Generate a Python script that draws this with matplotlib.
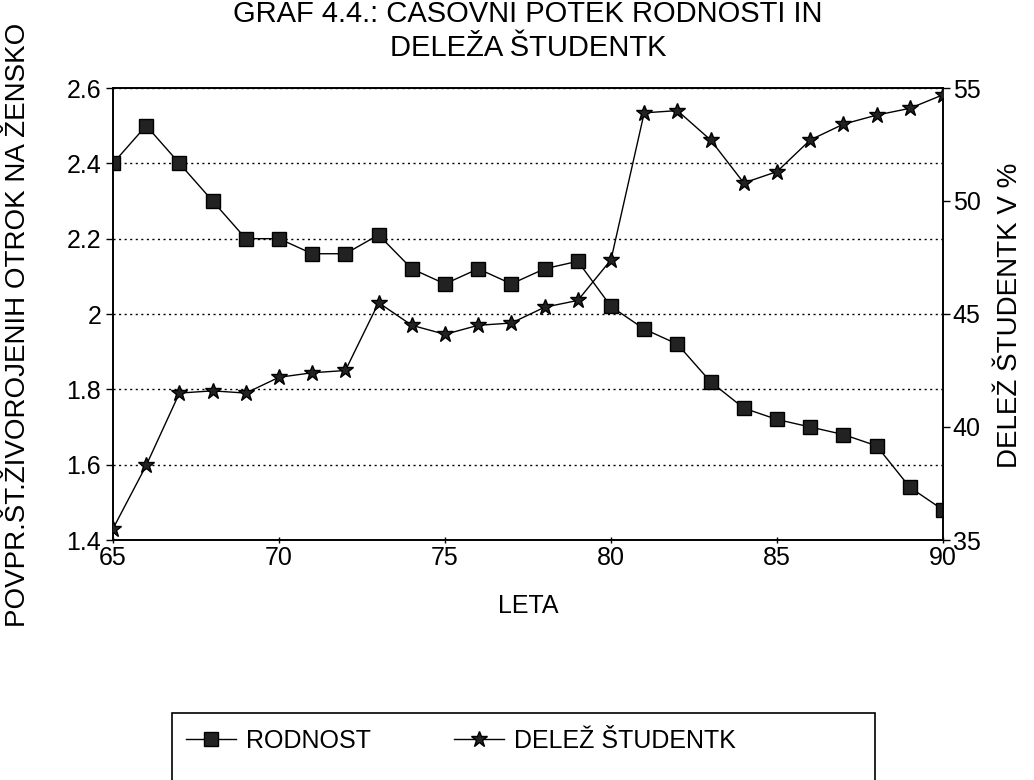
import matplotlib
matplotlib.use("Agg")
import matplotlib.pyplot as plt
from matplotlib.patches import Rectangle

# years (19xx) and the two series
leta = list(range(65, 91))
rodnost = [2.40, 2.50, 2.40, 2.30, 2.20, 2.20, 2.16, 2.16, 2.21, 2.12, 2.08, 2.12, 2.08,
           2.12, 2.14, 2.02, 1.96, 1.92, 1.82, 1.75, 1.72, 1.70, 1.68, 1.65, 1.54, 1.48]
delez = [35.5, 38.3, 41.5, 41.6, 41.5, 42.2, 42.4, 42.5, 45.5, 44.5, 44.1, 44.5, 44.6,
         45.3, 45.6, 47.4, 53.9, 54.0, 52.7, 50.8, 51.3, 52.7, 53.4, 53.8, 54.1, 54.7]

left_ticks = [1.4, 1.6, 1.8, 2.0, 2.2, 2.4, 2.6]
left_labels = ["1.4", "1.6", "1.8", "2", "2.2", "2.4", "2.6"]
right_ticks = [35, 40, 45, 50, 55]
x_ticks = [65, 70, 75, 80, 85, 90]

plt.rcParams['font.family'] = ['Liberation Sans', 'DejaVu Sans']

fig = plt.figure(figsize=(10.34, 7.8), dpi=100)
ax = fig.add_axes([113 / 1034, 1 - 540 / 780, 830 / 1034, 452 / 780])
ax2 = ax.twinx()

l1, = ax.plot(leta, rodnost, color='black', lw=1, marker='s', markersize=10,
              markerfacecolor='#222222', markeredgecolor='black', zorder=3)
l2, = ax2.plot(leta, delez, color='black', lw=1, marker='*', markersize=12,
               markerfacecolor='#222222', markeredgecolor='black', zorder=3)

ax.set_xlim(65, 90)
ax.set_ylim(1.4, 2.6)
ax2.set_ylim(35, 55)
ax.set_xticks(x_ticks)
ax.set_yticks(left_ticks)
ax.set_yticklabels(left_labels)
ax2.set_yticks(right_ticks)

ax.yaxis.grid(True, linestyle=(0, (1.5, 2.5)), color='black', lw=1)
ax.tick_params(axis='both', labelsize=18, length=5, width=1, color='black')
ax.tick_params(axis='x', direction='inout', pad=2)
ax2.tick_params(axis='y', labelsize=18, length=5, width=1, pad=2)
for a in (ax, ax2):
    for s in a.spines.values():
        s.set_linewidth(1.2)

fig.text(528 / 1034, 1 - 606 / 780, "LETA", ha='center', va='center', fontsize=18)
fig.text(18 / 1034, 1 - 325 / 780, "POVPR.ŠT.ŽIVOROJENIH OTROK NA ŽENSKO",
         rotation=90, ha='center', va='center', fontsize=20)
fig.text(1010 / 1034, 1 - 315 / 780, "DELEŽ ŠTUDENTK V %",
         rotation=90, ha='center', va='center', fontsize=20)

fig.text(528 / 1034, 1 - 31 / 780, "GRAF 4.4.: ČASOVNI POTEK RODNOSTI IN\nDELEŽA ŠTUDENTK",
         ha='center', va='center', fontsize=21, linespacing=1.25)

# legend box runs off the bottom edge in the scan
fig.patches.append(Rectangle((172 / 1034, -0.05), 703 / 1034, (780 - 713) / 780 + 0.05,
                             transform=fig.transFigure, fill=False, edgecolor='black', lw=1.2))
leg = fig.legend([l1, l2], ["RODNOST", "DELEŽ ŠTUDENTK"], loc='center left',
                 bbox_to_anchor=(186 / 1034, 1 - 741 / 780),
                 ncol=2, fontsize=18, frameon=False, handlelength=2.0,
                 handletextpad=0.4, columnspacing=3.3, borderaxespad=0, borderpad=0)

fig.savefig("out.png", dpi=100)
